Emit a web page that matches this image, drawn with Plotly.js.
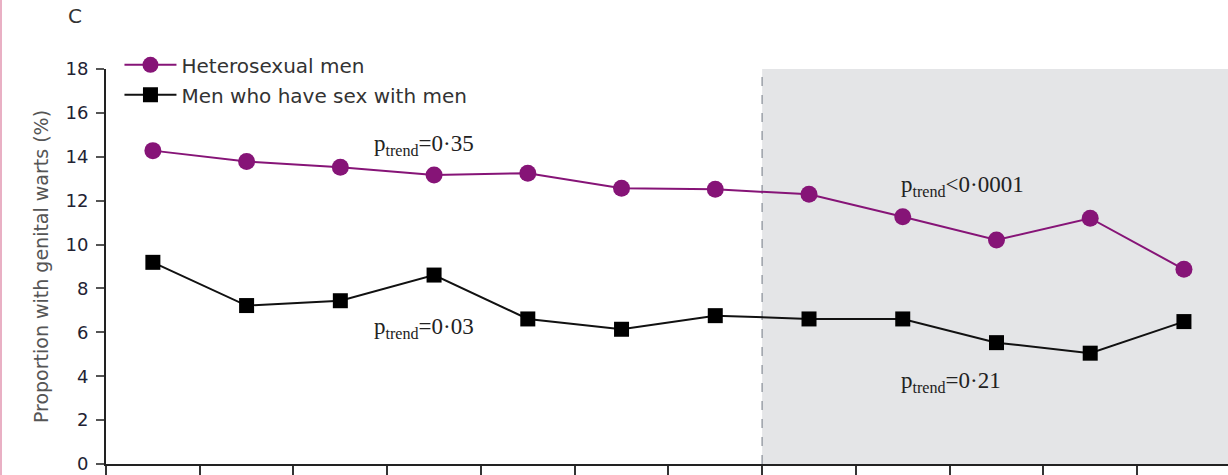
<!DOCTYPE html>
<html>
<head>
<meta charset="utf-8">
<script src="https://cdn.plot.ly/plotly-3.0.1.min.js"></script>
<style>
  html, body { margin: 0; padding: 0; background: #ffffff; }
  #chart { width: 1228px; height: 475px; }
</style>
</head>
<body>
<div id="chart"></div>
<script>
// Half-year periods (x tick labels are cropped out of the reference picture)
const periods = ['2004 H1','2004 H2','2005 H1','2005 H2','2006 H1','2006 H2',
                 '2007 H1','2007 H2','2008 H1','2008 H2','2009 H1','2009 H2'];
const heterosexualMen = [14.28, 13.78, 13.52, 13.17, 13.25, 12.57, 12.52, 12.29, 11.27, 10.21, 11.20, 8.87];
const msm = [9.19, 7.22, 7.44, 8.61, 6.61, 6.14, 6.76, 6.61, 6.61, 5.53, 5.05, 6.49];
const seriesNames = ['Heterosexual men', 'Men who have sex with men'];
const yTicks = [0, 2, 4, 6, 8, 10, 12, 14, 16, 18];
const vaccinationStart = '2007 H2';
const pTrendTexts = ['p<sub>trend</sub>=0·35', 'p<sub>trend</sub>=0·03',
                     'p<sub>trend</sub><0·0001', 'p<sub>trend</sub>=0·21'];

const purple = '#861477';
const boundary = periods.indexOf(vaccinationStart) - 0.5;
// label anchor positions (axis units)
const pTrendPos = [[2.34, 14.55], [2.34, 6.2], [7.96, 12.65], [7.96, 3.75]];

const traces = [
  {
    x: periods, y: heterosexualMen, name: seriesNames[0], type: 'scatter', mode: 'lines+markers',
    line: {color: purple, width: 2}, marker: {symbol: 'circle', size: 17, color: purple},
    legendgroup: 'a'
  },
  {
    x: periods, y: msm, name: seriesNames[1], type: 'scatter', mode: 'lines+markers',
    line: {color: '#111111', width: 2}, marker: {symbol: 'square', size: 15, color: '#000000'},
    legendgroup: 'b'
  }
];

const annotations = pTrendTexts.map((t, i) => ({
  text: t, x: pTrendPos[i][0], y: pTrendPos[i][1], xref: 'x', yref: 'y',
  xanchor: 'left', yanchor: 'middle', showarrow: false,
  font: {family: 'Liberation Serif, serif', size: 23, color: '#222222'}
}));

const layout = {
  width: 1228, height: 475,
  margin: {l: 106, r: 0, t: 69, b: 11, pad: 0},
  paper_bgcolor: '#ffffff', plot_bgcolor: '#ffffff',
  title: {
    text: 'C', xref: 'container', yref: 'container', x: 75/1228, y: 1 - 16/475,
    xanchor: 'center', yanchor: 'middle',
    font: {family: 'DejaVu Sans, sans-serif', size: 20, color: '#333333'}
  },
  showlegend: true,
  legend: {
    x: 0.012, y: 1.06, xanchor: 'left', yanchor: 'top',
    bgcolor: 'rgba(0,0,0,0)', traceorder: 'grouped', tracegroupgap: 1,
    itemwidth: 52,
    font: {family: 'DejaVu Sans, sans-serif', size: 20, color: '#333333'}
  },
  xaxis: {
    type: 'category', range: [-0.5, 11.47], tickson: 'boundaries',
    showticklabels: false, ticks: 'outside', ticklen: 14, tickwidth: 2, tickcolor: '#333333',
    showline: true, linecolor: '#222222', linewidth: 2, showgrid: false, zeroline: false,
    fixedrange: true
  },
  yaxis: {
    range: [0, 18], tickmode: 'array', tickvals: yTicks, ticktext: yTicks.map(String),
    ticks: 'outside', ticklen: 8, tickwidth: 2, tickcolor: '#555555', ticklabelstandoff: 4,
    showline: true, linecolor: '#222222', linewidth: 2, showgrid: false, zeroline: false,
    tickfont: {family: 'DejaVu Sans, sans-serif', size: 18, color: '#222233'},
    title: {
      text: 'Proportion with genital warts (%)', standoff: 12,
      font: {family: 'DejaVu Sans, sans-serif', size: 19, color: '#555555'}
    },
    fixedrange: true
  },
  shapes: [
    {type: 'rect', xref: 'x', yref: 'y', x0: boundary, x1: 11.6, y0: 0, y1: 18,
     fillcolor: '#e4e5e7', line: {width: 0}, layer: 'below'},
    {type: 'line', xref: 'x', yref: 'y', x0: boundary, x1: boundary, y0: 0, y1: 18,
     line: {color: '#9aa0a8', width: 1.5, dash: 'dash'}, layer: 'below'},
    {type: 'line', xref: 'paper', yref: 'paper', x0: -105/1122, x1: -105/1122, y0: -11/395, y1: 1 + 69/395,
     line: {color: '#e9b0c4', width: 2}}
  ],
  annotations: annotations
};

Plotly.newPlot('chart', traces, layout, {displayModeBar: false, staticPlot: true});
</script>
</body>
</html>
